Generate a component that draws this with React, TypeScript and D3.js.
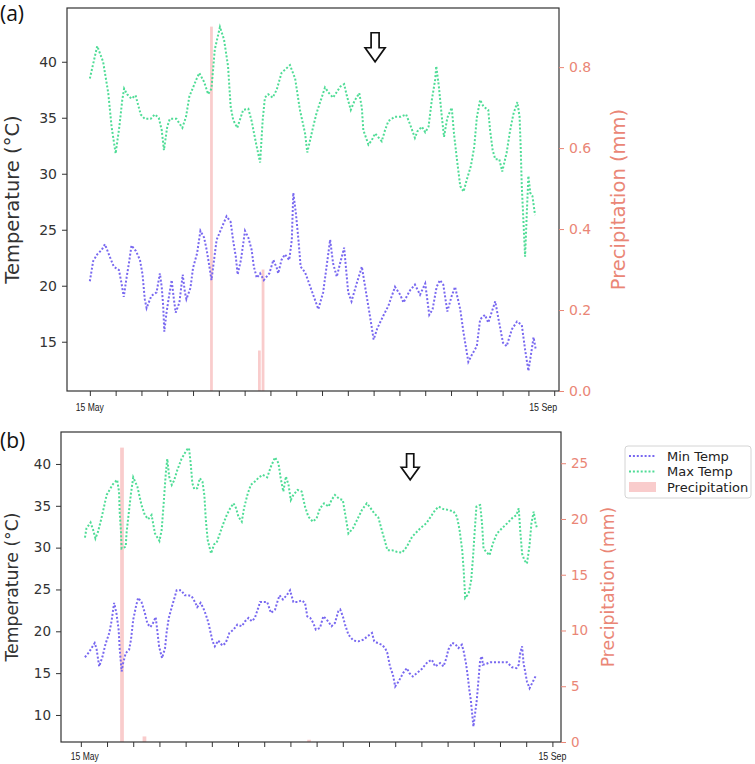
import React, { useEffect, useRef } from "react";
import * as d3 from "d3";

// x values are days after 15 May
const weekTicks = d3.range(0, 127, 7);

// ---- panel (a) ----
const maxDaysA = [0, 2, 3.6, 5, 5.9, 7, 8, 8.8, 9.3, 10.1, 11.3, 12.4, 13.8, 14.9, 16.5, 17.6, 18.7, 19.5, 20.1, 21, 21.7, 23.5, 25.1, 26.1, 27, 29, 29.7, 31, 32.1, 33, 33.9, 35.3, 36.4, 37.5, 38.2, 38.9, 40, 41.6, 43, 43.9, 45.1, 46.2, 46.9, 47.5, 48.4, 49.6, 50.7, 52, 54.3, 55.7, 57, 58.4, 59, 60.6, 61.5, 62.6, 63.8, 64.9, 66, 67, 68, 69, 69.7, 70.8, 71.8, 73.1, 73.8, 74.2, 75.6, 76.5, 77.4, 79.2, 80.1, 81, 82.8, 84.4, 85.8, 86.9, 88.2, 88.9, 90.1, 91, 91.9, 92.8, 93.7, 94, 94.7, 95.5, 96.1, 97, 98.2, 98.8, 99.6, 100.5, 101.4, 102.3, 103.4, 104.3, 105, 105.9, 106.8, 108.1, 108.6, 109.3, 110, 111.1, 111.9, 113.1, 114, 114.9, 116, 116.6, 116.9, 117.2, 117.8, 118.1, 118.6, 119, 119.5, 120.1, 120.8];
const maxTempA = [38.5, 41.4, 40.0, 37.2, 34.2, 31.8, 34.2, 36.6, 37.6, 37.1, 36.7, 37.0, 35.3, 34.9, 34.9, 35.3, 35.0, 33.9, 32.1, 34.2, 34.9, 34.9, 34.1, 35.1, 36.9, 38.5, 39.0, 38.2, 37.1, 37.6, 41.1, 43.1, 42.0, 39.6, 36.0, 34.8, 34.1, 35.7, 35.8, 34.7, 32.7, 31.0, 34.8, 36.8, 37.1, 36.8, 37.5, 39.0, 39.7, 38.5, 35.7, 33.6, 31.9, 34.2, 35.4, 36.5, 37.7, 37.2, 36.8, 37.3, 37.8, 38.0, 37.0, 35.7, 36.5, 37.2, 35.9, 33.9, 32.6, 33.0, 33.6, 32.9, 33.9, 34.7, 35.1, 35.1, 35.3, 34.4, 33.2, 33.8, 34.2, 33.7, 34.2, 36.6, 38.4, 39.6, 37.8, 35.1, 33.3, 35.0, 35.9, 33.6, 31.3, 28.9, 28.4, 29.5, 30.7, 32.4, 35.0, 36.6, 36.0, 35.7, 33.9, 32.1, 31.3, 31.3, 30.2, 31.9, 33.8, 35.3, 36.4, 35.1, 32.4, 28.9, 24.7, 22.6, 26.8, 29.8, 28.3, 28.0, 26.3];
const minDaysA = [0, 0.9, 2, 3.2, 4.1, 5.4, 6.5, 7.9, 8.6, 9.2, 10, 10.6, 11.3, 12.5, 13.6, 14.3, 14.9, 15.4, 16.7, 18.1, 19, 19.5, 19.9, 20.2, 20.8, 21.5, 22.2, 22.8, 23.3, 24.3, 25.2, 25.8, 26.2, 27.3, 28, 29.1, 30, 31, 31.7, 32.3, 33, 33.7, 34.4, 35.8, 37.1, 38.2, 38.9, 39.6, 40.1, 41, 42.1, 43, 43.9, 44.5, 45.3, 46.2, 47.2, 48.7, 49.8, 50.7, 51.1, 52, 52.9, 54.1, 54.8, 55.2, 55.9, 56.6, 57.2, 58.4, 59.5, 62, 63.3, 65.2, 66, 67, 67.9, 69, 70.1, 71, 72.4, 73.8, 74.7, 76, 77, 78, 79.6, 81, 82.8, 84.2, 85.1, 86.9, 88.2, 89.6, 91, 92.1, 93, 94.1, 95, 95.9, 97, 98.2, 99.1, 100.5, 101.4, 102.7, 103.6, 105, 105.9, 107.2, 108.1, 110, 110.9, 112.1, 113.1, 114.5, 115.9, 117.2, 118.1, 119, 119.9, 120.4, 121];
const minTempA = [20.4, 22.2, 22.8, 23.2, 23.7, 22.6, 21.7, 21.4, 20.2, 19.0, 20.8, 22.0, 23.6, 23.1, 22.3, 21.0, 18.8, 18.0, 19.1, 19.4, 21.1, 19.9, 18.2, 15.9, 17.6, 19.1, 20.5, 18.8, 17.6, 18.5, 21.0, 19.4, 18.8, 19.8, 21.6, 22.9, 24.9, 24.3, 23.2, 22.0, 20.5, 22.3, 24.1, 25.2, 26.2, 25.7, 24.0, 22.6, 21.0, 22.3, 24.9, 24.3, 23.2, 21.7, 20.7, 21.1, 20.5, 21.1, 22.3, 21.6, 21.1, 22.3, 22.8, 22.3, 24.1, 28.3, 26.5, 24.1, 21.7, 21.2, 20.2, 17.9, 19.4, 24.1, 22.0, 20.8, 22.0, 23.4, 19.4, 18.6, 20.2, 21.7, 19.9, 17.3, 15.2, 16.2, 17.3, 18.2, 19.9, 19.2, 18.5, 19.6, 20.1, 19.2, 20.2, 17.4, 17.9, 19.9, 20.5, 20.1, 17.7, 19.1, 19.9, 17.9, 15.8, 13.2, 13.8, 14.6, 17.0, 17.4, 16.7, 18.6, 17.0, 14.9, 14.6, 16.1, 16.8, 16.5, 14.3, 12.4, 14.3, 15.4, 14.3];
const precipDaysA = [33, 46, 47];
const precipA = [0.9, 0.1, 0.3];
const tempTicksA = [15, 20, 25, 30, 35, 40];
const precipTicksA = [0, 0.2, 0.4, 0.6, 0.8];

// ---- panel (b) ----
const maxDaysB = [1.1, 1.5, 2.6, 3.3, 3.9, 4.6, 5.5, 6.2, 6.9, 7.8, 8.6, 9.7, 10.2, 10.4, 10.7, 10.9, 12, 12.2, 12.8, 13.4, 14, 15.1, 16.2, 17.1, 18, 18.9, 19.8, 21, 21.6, 22.2, 22.7, 23.1, 23.6, 24.3, 24.9, 25.8, 26.9, 27.8, 28.5, 28.9, 29.3, 29.8, 30.3, 31.1, 31.8, 32.5, 33, 33.4, 33.9, 34.8, 35.6, 36.3, 37, 38.1, 39, 39.9, 40.8, 41.5, 42.1, 43, 43.6, 44.5, 45.4, 46.5, 47.6, 48.6, 49.8, 50.8, 51.9, 52.8, 53.4, 54.1, 54.8, 55.5, 56.1, 56.8, 57.9, 59, 59.9, 60.8, 62, 63, 63.9, 65, 66.2, 67, 67.9, 69.1, 70, 70.6, 71.5, 72.7, 73.8, 75.1, 76.4, 77.3, 78.4, 79.5, 80.4, 81.3, 81.9, 83.1, 84.4, 85.8, 87.1, 88.5, 89.8, 90.9, 92.3, 93.5, 94.7, 95.6, 96.9, 98.3, 99.6, 100.5, 101.2, 101.9, 102.3, 102.7, 103.6, 104.3, 104.8, 105.2, 105.7, 106, 106.7, 107.2, 107.6, 108.3, 109.2, 110.1, 111.2, 112.5, 113.9, 115.2, 116.4, 117, 117.4, 117.9, 118.5, 119.2, 119.9, 120.4, 121, 121.5, 121.9];
const maxTempB = [31.2, 32.3, 33.0, 32.1, 31.1, 31.9, 33.5, 34.9, 36.3, 37.0, 37.6, 38.1, 36.7, 34.1, 32.1, 29.9, 30.1, 31.7, 34.1, 36.5, 38.4, 37.3, 35.1, 33.9, 33.4, 33.9, 31.7, 30.8, 32.1, 35.7, 38.9, 40.6, 38.5, 37.5, 38.0, 39.3, 40.6, 41.3, 41.8, 41.9, 40.3, 37.7, 37.0, 37.1, 38.3, 37.9, 36.3, 33.3, 30.9, 29.3, 30.4, 30.6, 31.5, 32.9, 33.9, 34.7, 35.3, 34.7, 33.7, 33.1, 34.7, 36.3, 37.5, 37.9, 38.4, 38.7, 38.4, 39.7, 40.8, 40.1, 38.3, 36.7, 38.5, 37.5, 35.7, 36.3, 36.9, 36.7, 34.9, 33.7, 33.1, 33.5, 34.7, 35.3, 34.9, 35.7, 36.3, 35.8, 35.7, 34.1, 31.7, 32.3, 33.3, 34.5, 35.3, 34.8, 34.1, 33.6, 32.1, 30.7, 29.7, 29.7, 29.5, 29.4, 30.1, 31.3, 31.9, 32.4, 32.9, 33.7, 34.5, 34.9, 34.6, 34.5, 34.3, 33.7, 32.1, 29.7, 27.3, 24.0, 24.5, 26.1, 28.9, 31.7, 34.9, 35.0, 35.1, 32.9, 29.9, 29.5, 29.1, 30.5, 31.7, 32.3, 32.9, 33.5, 33.9, 34.7, 32.1, 29.3, 28.5, 28.1, 30.3, 32.9, 34.3, 32.9, 32.3];
const minDaysB = [1.1, 2.2, 3, 3.7, 4.2, 4.9, 5.8, 6.6, 7.6, 8.2, 8.9, 9.5, 10.1, 10.4, 10.9, 11.3, 12, 12.9, 13.4, 14, 14.7, 15.3, 16.2, 17.1, 17.8, 18.6, 19.3, 20, 20.4, 20.9, 21.7, 22.5, 22.9, 23.5, 24.3, 24.9, 25.6, 26.8, 27.8, 28.7, 29.6, 30.5, 31.1, 32, 32.7, 33.4, 34.1, 34.8, 35.2, 35.8, 36.7, 37.8, 38.7, 39.7, 40.8, 41.8, 43, 43.9, 44.8, 45.7, 46.5, 47.4, 47.9, 49, 49.8, 50.8, 51.9, 52.5, 53.1, 54, 55, 55.9, 56.8, 57.9, 59, 59.9, 60.5, 61.3, 62.1, 62.8, 63.9, 64.8, 65.7, 67, 67.9, 68.8, 69.3, 70, 70.6, 71.5, 72.8, 74.2, 75.5, 76.6, 77.8, 78.4, 79.3, 80.4, 81.3, 81.9, 82.6, 83.4, 84, 84.9, 86.1, 87.1, 87.8, 88.7, 89.8, 91.1, 92.6, 93.8, 94.7, 96, 96.9, 97.6, 98.2, 99.2, 100, 100.9, 101.8, 102.3, 102.9, 103.4, 103.8, 104.2, 104.9, 105.8, 106.7, 107.2, 107.4, 108.3, 109.4, 110.7, 112.1, 113.9, 115.2, 116.4, 117, 117.4, 117.9, 118.3, 118.8, 119.2, 119.9, 120.8, 121.7];
const minTempB = [16.9, 17.5, 18.1, 18.6, 17.9, 15.8, 17.0, 18.5, 19.8, 21.2, 23.4, 22.2, 20.2, 17.8, 15.2, 16.2, 17.4, 17.8, 19.0, 21.4, 22.9, 24.0, 23.5, 22.2, 20.9, 20.5, 21.0, 21.7, 20.2, 18.2, 16.8, 18.0, 19.8, 21.6, 22.9, 23.8, 24.9, 24.9, 24.3, 24.3, 24.2, 23.5, 22.9, 23.4, 22.8, 22.0, 21.0, 19.6, 18.8, 18.2, 18.9, 18.3, 18.6, 19.8, 20.2, 20.8, 20.6, 21.2, 21.6, 21.2, 21.6, 22.8, 23.5, 23.5, 23.5, 22.2, 22.6, 23.5, 24.3, 23.8, 24.3, 24.9, 23.5, 23.5, 23.7, 23.4, 21.8, 21.6, 21.0, 20.2, 20.4, 21.8, 21.4, 20.6, 21.0, 22.4, 22.6, 21.8, 20.8, 19.6, 18.9, 18.8, 19.0, 19.4, 19.8, 18.8, 18.6, 18.4, 18.0, 17.4, 15.8, 14.8, 13.4, 14.0, 15.0, 15.6, 15.0, 14.6, 15.0, 15.5, 16.3, 16.6, 15.8, 16.2, 15.8, 16.7, 17.8, 18.6, 18.5, 18.0, 18.4, 17.6, 16.2, 14.6, 13.0, 11.8, 8.6, 11.8, 16.6, 17.0, 16.0, 16.1, 16.3, 16.3, 16.3, 16.3, 15.7, 15.6, 16.0, 17.4, 18.2, 16.2, 15.0, 14.0, 13.2, 14.0, 14.8];
const precipDaysB = [11, 17, 61];
const precipB = [26.4, 0.5, 0.2];
const tempTicksB = [10, 15, 20, 25, 30, 35, 40];
const precipTicksB = [0, 5, 10, 15, 20, 25];

const legendLabels = ["Min Temp", "Max Temp", "Precipitation"];

const MIN_COLOR = "#7868f0";
const MAX_COLOR = "#4fdc96";
const PRECIP_COLOR = "#f08080";
const SALMON = "#ea8676";
const DARK = "#333";
const DOTS = "2,1.9";

const zip = (xs: number[], ys: number[]) => xs.map((d, i) => [d, ys[i]] as [number, number]);

function drawPanel(svg: any, p: any) {
  const { left, top, right, bottom } = p.box;
  const x = d3.scaleLinear().domain(p.xDomain).range([left, right]);
  const yT = d3.scaleLinear().domain(p.tDomain).range([bottom, top]);
  const yP = d3.scaleLinear().domain(p.pDomain).range([bottom, top]);
  const g = svg.append("g");

  // precipitation bars
  g.selectAll("rect.bar")
    .data(zip(p.precipDays, p.precip))
    .join("rect")
    .attr("class", "bar")
    .attr("x", (d: any) => x(d[0] - p.barW / 2))
    .attr("width", x(p.barW) - x(0))
    .attr("y", (d: any) => yP(d[1]))
    .attr("height", (d: any) => bottom - yP(d[1]))
    .attr("fill", PRECIP_COLOR)
    .attr("fill-opacity", 0.4);

  const line = d3
    .line<[number, number]>()
    .x((d) => x(d[0]))
    .y((d) => yT(d[1]));

  [
    { data: zip(p.minDays, p.minTemp), color: MIN_COLOR },
    { data: zip(p.maxDays, p.maxTemp), color: MAX_COLOR },
  ].forEach((s) => {
    g.append("path")
      .attr("d", line(s.data))
      .attr("fill", "none")
      .attr("stroke", s.color)
      .attr("stroke-width", 2)
      .attr("stroke-dasharray", DOTS);
  });

  // frame
  g.append("rect")
    .attr("x", left)
    .attr("y", top)
    .attr("width", right - left)
    .attr("height", bottom - top)
    .attr("fill", "none")
    .attr("stroke", DARK)
    .attr("stroke-width", 1.2);

  // x axis (weekly ticks, no labels)
  const xa = g
    .append("g")
    .attr("transform", `translate(0,${bottom})`)
    .call(d3.axisBottom(x).tickValues(weekTicks).tickSize(5).tickFormat(() => ""));
  xa.select(".domain").remove();
  xa.selectAll("line").attr("stroke", DARK);

  // left axis
  const la = g
    .append("g")
    .attr("transform", `translate(${left},0)`)
    .call(d3.axisLeft(yT).tickValues(p.tTicks).tickSize(5).tickPadding(5));
  la.select(".domain").remove();
  la.selectAll("line").attr("stroke", DARK);
  la.selectAll("text")
    .attr("fill", DARK)
    .attr("font-family", "DejaVu Sans, sans-serif")
    .attr("font-size", p.tickFont);

  // right axis
  const ra = g
    .append("g")
    .attr("transform", `translate(${right},0)`)
    .call(
      d3.axisRight(yP).tickValues(p.pTicks).tickSize(5).tickPadding(5).tickFormat(d3.format(p.pFormat))
    );
  ra.select(".domain").remove();
  ra.selectAll("line").attr("stroke", SALMON);
  ra.selectAll("text")
    .attr("fill", SALMON)
    .attr("font-family", "DejaVu Sans, sans-serif")
    .attr("font-size", p.tickFont);

  // axis titles
  const midY = (top + bottom) / 2;
  g.append("text")
    .attr("transform", `translate(${p.tLabelX},${midY}) rotate(-90)`)
    .attr("text-anchor", "middle")
    .attr("dominant-baseline", "central")
    .attr("font-family", "DejaVu Sans, sans-serif")
    .attr("font-size", p.labelFont)
    .attr("fill", DARK)
    .text("Temperature (°C)");
  g.append("text")
    .attr("transform", `translate(${p.pLabelX},${midY}) rotate(-90)`)
    .attr("text-anchor", "middle")
    .attr("dominant-baseline", "central")
    .attr("font-family", "DejaVu Sans, sans-serif")
    .attr("font-size", p.labelFont)
    .attr("fill", SALMON)
    .text("Precipitation (mm)");

  // date labels
  [
    { day: 0, text: "15 May" },
    { day: p.sepDay, text: "15 Sep" },
  ].forEach((l) => {
    g.append("text")
      .attr("x", x(l.day) + p.mayShift * (l.day === 0 ? 1 : 0))
      .attr("y", p.dateY)
      .attr("text-anchor", "middle")
      .attr("font-family", "Liberation Sans Narrow, Liberation Sans, Arial, sans-serif")
      .attr("font-size", 10.5)
      .attr("textLength", 28)
      .attr("lengthAdjust", "spacingAndGlyphs")
      .attr("fill", "#222")
      .text(l.text);
  });

  // panel letter
  g.append("text")
    .attr("x", 0)
    .attr("y", p.letterY)
    .attr("font-family", "Open Sans, sans-serif")
    .attr("font-size", 21)
    .attr("fill", "#111")
    .text(p.letter);

  // hollow arrow annotation
  const s = p.arrowScale;
  g.append("path")
    .attr("transform", `translate(${x(p.arrowDay)},${yT(p.arrowTemp)}) scale(${s})`)
    .attr("d", "M-4,-29L4,-29L4,-14L10,-14L0,0L-10,-14L-4,-14Z")
    .attr("fill", "white")
    .attr("stroke", "#111")
    .attr("stroke-width", 1.7 / s)
    .attr("stroke-linejoin", "miter");
}

export default function App() {
  const svgRef = useRef<SVGSVGElement | null>(null);

  useEffect(() => {
    if (!svgRef.current) return;
    const svg = d3.select(svgRef.current);
    svg.selectAll("*").remove();

    drawPanel(svg, {
      box: { left: 67, top: 8, right: 559, bottom: 391 },
      xDomain: [-6.2, 127.3],
      tDomain: [10.6, 44.8],
      pDomain: [0, 0.946],
      maxDays: maxDaysA,
      maxTemp: maxTempA,
      minDays: minDaysA,
      minTemp: minTempA,
      precipDays: precipDaysA,
      precip: precipA,
      barW: 0.75,
      tTicks: tempTicksA,
      pTicks: precipTicksA,
      pFormat: ".1f",
      tickFont: 14,
      labelFont: 19.5,
      tLabelX: 12,
      pLabelX: 618,
      sepDay: 123,
      mayShift: 0,
      dateY: 411,
      letter: "(a)",
      letterY: 21,
      arrowDay: 77.4,
      arrowTemp: 40,
      arrowScale: 1,
    });

    drawPanel(svg, {
      box: { left: 61, top: 432, right: 561, bottom: 742 },
      xDomain: [-5.3, 128.3],
      tDomain: [6.77, 43.82],
      pDomain: [0, 27.8],
      maxDays: maxDaysB,
      maxTemp: maxTempB,
      minDays: minDaysB,
      minTemp: minTempB,
      precipDays: precipDaysB,
      precip: precipB,
      barW: 1.0,
      tTicks: tempTicksB,
      pTicks: precipTicksB,
      pFormat: "d",
      tickFont: 13.5,
      labelFont: 17.3,
      tLabelX: 12,
      pLabelX: 608,
      sepDay: 126,
      mayShift: 4,
      dateY: 760,
      letter: "(b)",
      letterY: 448,
      arrowDay: 88,
      arrowTemp: 38.1,
      arrowScale: 0.9,
    });

    // legend
    const lg = svg.append("g").attr("transform", "translate(625,446)");
    lg.append("rect")
      .attr("width", 126)
      .attr("height", 52)
      .attr("rx", 3)
      .attr("fill", "white")
      .attr("stroke", "#d4d4d4");
    legendLabels.forEach((label, i) => {
      const cy = 10 + i * 15.5;
      if (i < 2) {
        lg.append("line")
          .attr("x1", 4)
          .attr("x2", 31)
          .attr("y1", cy)
          .attr("y2", cy)
          .attr("stroke", i === 0 ? MIN_COLOR : MAX_COLOR)
          .attr("stroke-width", 2)
          .attr("stroke-dasharray", DOTS);
      } else {
        lg.append("rect")
          .attr("x", 4)
          .attr("y", cy - 5)
          .attr("width", 27)
          .attr("height", 10)
          .attr("fill", PRECIP_COLOR)
          .attr("fill-opacity", 0.4);
      }
      lg.append("text")
        .attr("x", 42)
        .attr("y", cy + 4.5)
        .attr("font-family", "DejaVu Sans, sans-serif")
        .attr("font-size", 13)
        .attr("fill", "#222")
        .text(label);
    });
  }, []);

  return (
    <svg
      ref={svgRef}
      width={755}
      height={764}
      style={{ position: "absolute", left: 0, top: 0, background: "white" }}
    />
  );
}
